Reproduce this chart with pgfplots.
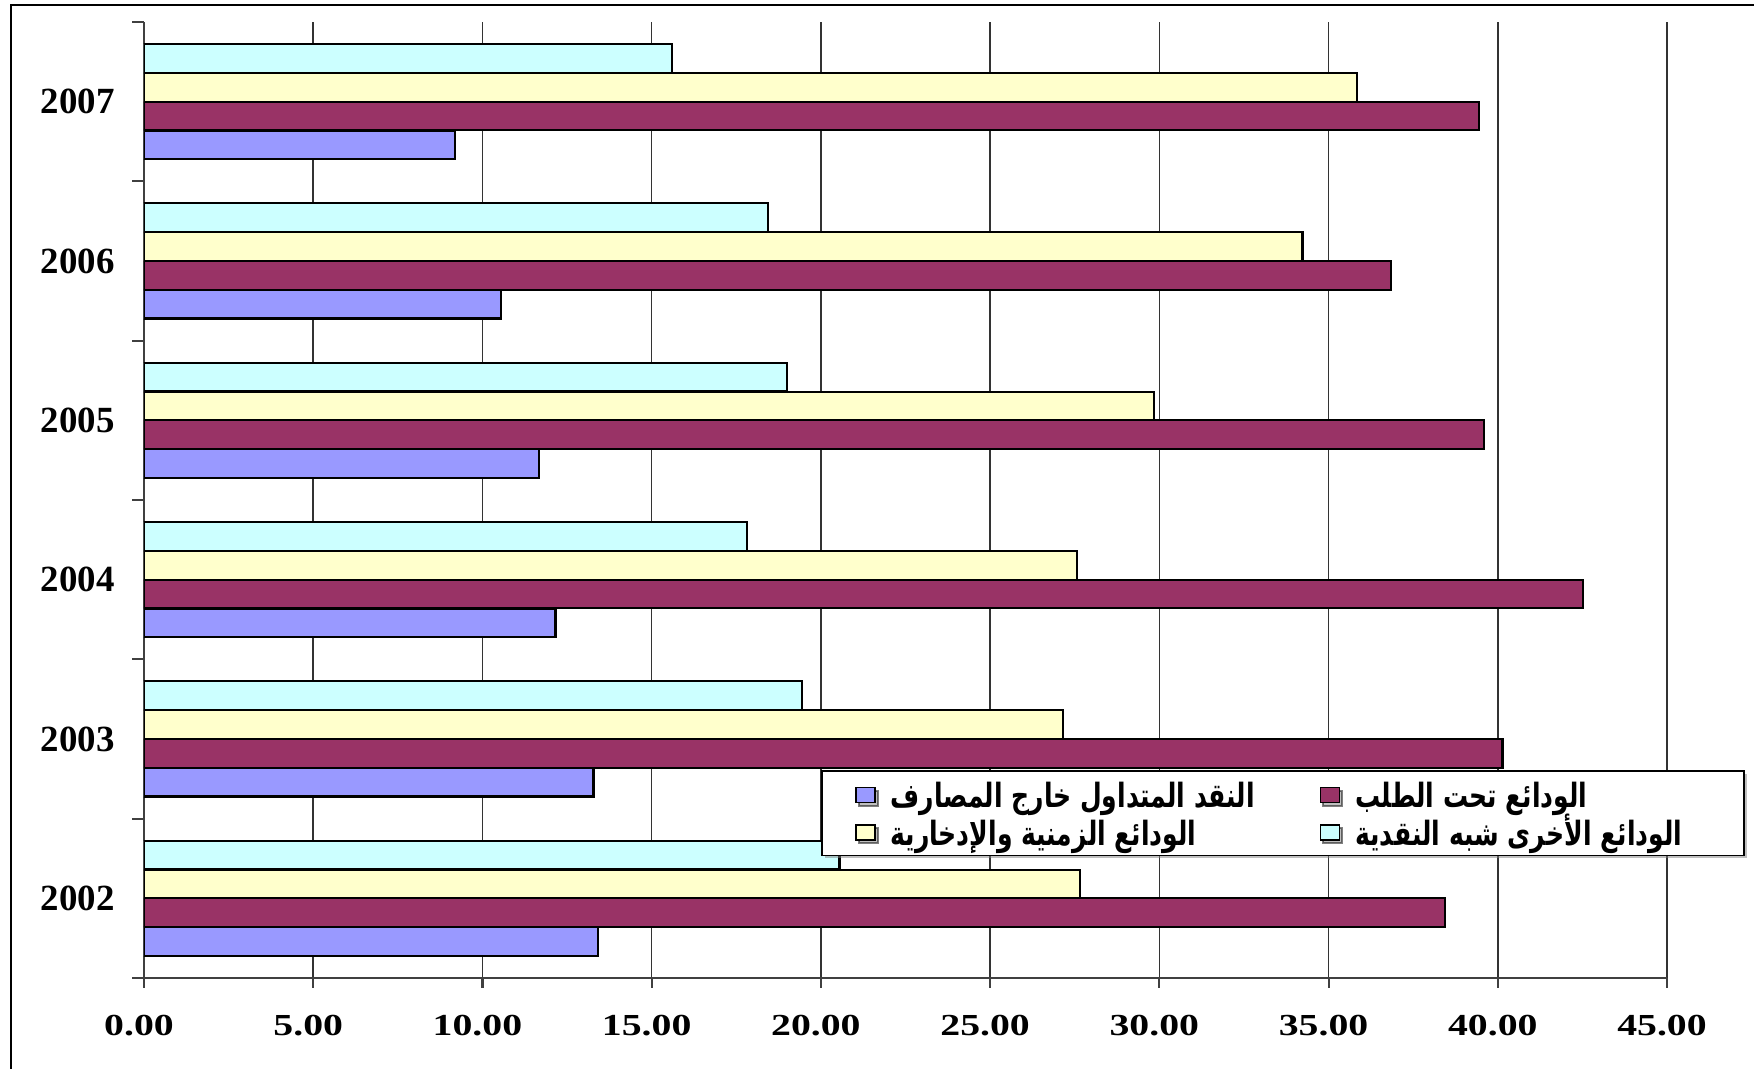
\documentclass[border=0pt]{standalone}
\usepackage{fontspec}
\usepackage{pgfplots}
\pgfplotsset{compat=1.18}
\usetikzlibrary{shadows}
\setmainfont{Liberation Serif}
\newfontfamily\arabicfont[Script=Arabic]{DejaVu Sans}
\TeXXeTstate=1
\definecolor{cBlue}{HTML}{9999FF}
\definecolor{cMaroon}{HTML}{993366}
\definecolor{cYellow}{HTML}{FFFFCC}
\definecolor{cCyan}{HTML}{CCFFFF}
\newcommand\LE[2]{\makebox[#1][l]{\hspace{1.5mm}\rule[-1.2mm]{0pt}{4.4mm}\arabicfont\bfseries\fontsize{9.5}{12}\selectfont\scalebox{0.75}[1]{#2}}}
\begin{document}
\begin{tikzpicture}
\useasboundingbox (-1.44,-0.91) rectangle (16.10,9.78);
\begin{axis}[
  at={(0,0)}, anchor=south west,
  scale only axis, width=15.23cm, height=9.56cm,
  xbar, bar width=0.1805,
  xmin=0, xmax=45, ymin=-0.5, ymax=5.5,
  axis x line*=bottom, axis y line*=left,
  axis line style={black!75, line width=0.6pt},
  xtick={0,5,...,45},
  xmajorgrids=true,
  major grid style={black!80, line width=0.45pt},
  tick align=outside,
  major tick length=1mm,
  minor tick length=1.2mm,
  ytick={0,1,2,3,4,5},
  yticklabels={2002,2003,2004,2005,2006,2007},
  minor ytick={-0.5,0.5,1.5,2.5,3.5,4.5,5.5},
  major y tick style={draw=none},
  minor y tick style={black!75, line width=0.6pt},
  x tick style={black!75, line width=0.6pt},
  /pgf/number format/assume math mode=true,
  xticklabel={\scalebox{1.3}[1]{\pgfmathprintnumber[fixed,fixed zerofill,precision=2]{\tick}}},
  xticklabel style={font=\fontsize{8.7}{10}\selectfont\bfseries, yshift=-1.5mm, xshift=-0.5mm},
  yticklabel style={font=\fontsize{10.5}{12}\selectfont\bfseries, xshift=-0.7mm},
  legend columns=2,
  legend cell align=left,
  legend style={at={(axis cs:20,0.805)}, anchor=north west, draw=black, line width=0.5pt, fill=white,
    inner xsep=3.3mm, inner ysep=0.5mm, nodes={inner sep=0pt},
    drop shadow={shadow xshift=0.3mm, shadow yshift=-0.3mm, fill=black!50}},
  legend image code/.code={\draw[#1, line width=0.5pt] (0,-0.8mm) rectangle (1.9mm,0.7mm);},
]
\addplot[fill=cBlue, draw=black, line width=0.6pt, bar shift=-0.271]
  coordinates {(13.41,0) (13.28,1) (12.16,2) (11.66,3) (10.54,4) (9.18,5)};
\addlegendentry{\LE{44.4mm}{\beginR النقد المتداول خارج المصارف\endR}}
\addplot[fill=cMaroon, draw=black, line width=0.6pt, bar shift=-0.090]
  coordinates {(38.45,0) (40.14,1) (42.52,2) (39.58,3) (36.84,4) (39.45,5)};
\addlegendentry{\LE{37.1mm}{\beginR الودائع  تحت الطلب\endR}}
\addplot[fill=cYellow, draw=black, line width=0.6pt, bar shift=0.090]
  coordinates {(27.65,0) (27.16,1) (27.58,2) (29.83,3) (34.23,4) (35.84,5)};
\addlegendentry{\LE{44.4mm}{\beginR الودائع الزمنية  والإدخارية\endR}}
\addplot[fill=cCyan, draw=black, line width=0.6pt, bar shift=0.271]
  coordinates {(20.55,0) (19.43,1) (17.81,2) (19.00,3) (18.43,4) (15.59,5)};
\addlegendentry{\LE{37.1mm}{\beginR الودائع الأخرى شبه النقدية\endR}}
\end{axis}
\draw[line width=0.8pt] (-1.33,-0.91) -- (-1.33,9.73) -- (16.10,9.73);
\end{tikzpicture}
\end{document}
